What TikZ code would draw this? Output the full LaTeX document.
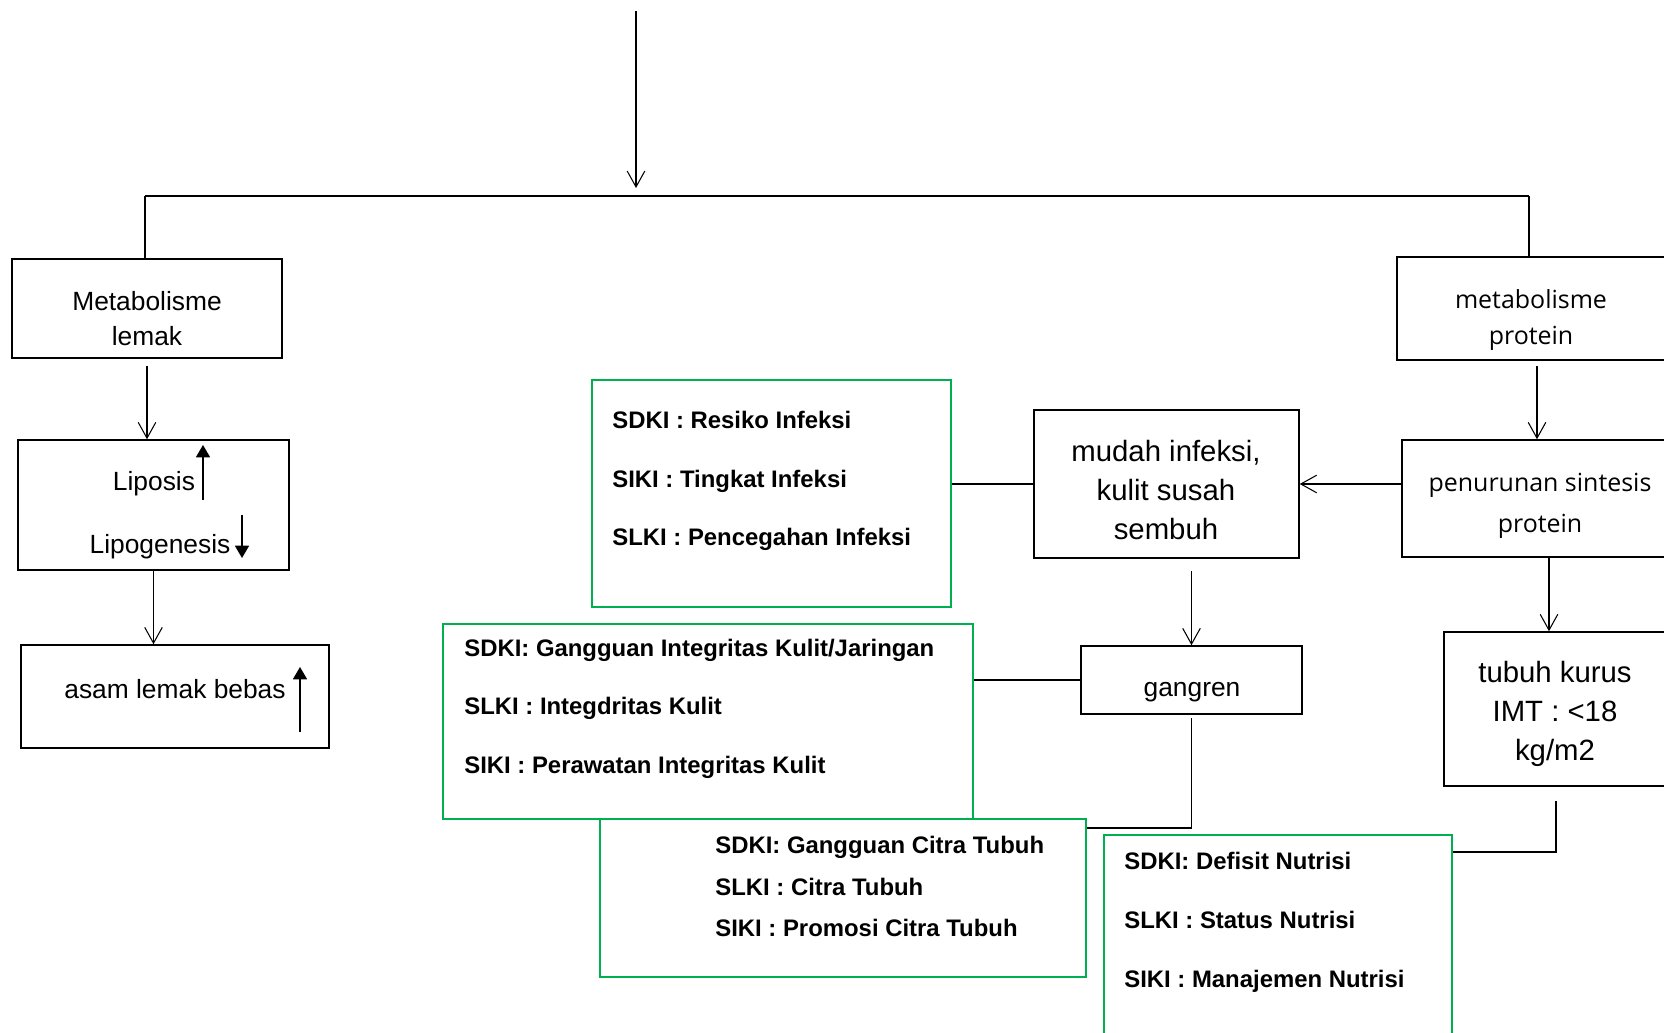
\documentclass[tikz,border=0pt]{standalone}
\usepackage{fontspec}
\setmainfont{Liberation Sans}
\newfontfamily\opensans{Open Sans}
\usetikzlibrary{arrows.meta}
\definecolor{sdkigreen}{RGB}{0,176,80}

\begin{document}
\begin{tikzpicture}[
  x=0.02cm, y=-0.02cm,
  box/.style={draw, line width=0.9pt, inner sep=0pt},
  gbox/.style={draw=sdkigreen, line width=1.1pt, inner sep=0pt},
  txt/.style={align=center, inner sep=0pt, font=\fontsize{15pt}{20pt}\selectfont},
  bigtxt/.style={align=center, inner sep=0pt, font=\fontsize{16.7pt}{22.4pt}\selectfont},
  ostxt/.style={align=center, inner sep=0pt, font=\opensans\fontsize{14.2pt}{20pt}\selectfont},
  lbl/.style={anchor=base west, inner sep=0pt, font=\fontsize{13.6pt}{16pt}\selectfont\bfseries},
  arr/.style={-{Straight Barb[length=9pt,width=10pt]}, line width=0.6pt},
  link/.style={line width=0.6pt},
  updown/.style={-{Triangle[length=7pt,width=8pt]}, line width=0.8pt}
]
\path[use as bounding box] (0,0) rectangle (1664,1032);
\clip (0,0) rectangle (1664,1032);

%% top branch
\coordinate (start) at (636,11);
\coordinate (busTop) at (636,188);
\coordinate (busL) at (145,196);
\coordinate (busR) at (1529,196);
\draw[arr] (start) -- (busTop);
\draw[link] (busR) -- (busL);

%% left column: lemak
\node[box, minimum width=5.4cm, minimum height=1.98cm] (lemak) at (147,308.5) {};
\node[txt] (lemakT) at (147,319) {Metabolisme\\lemak};
\node[box, minimum width=5.42cm, minimum height=2.6cm] (liposis) at (153.5,505) {};
\node[txt, anchor=base] (liposisT) at (154,490) {Liposis};
\node[txt, anchor=base] (lipogenT) at (160,553) {Lipogenesis};
\draw[updown] (203,500) -- (203,445);
\draw[updown] (242,515) -- (242,558);
\node[box, minimum width=6.16cm, minimum height=2.06cm] (asam) at (175,696.5) {};
\node[txt, anchor=base] (asamT) at (175,698) {asam lemak bebas};
\draw[updown] (300,732) -- (300,667);

\draw[link] (busL) -- (busL |- lemak.north);
\draw[arr, shorten <=4pt] (lemak.south) -- (lemak.south |- liposis.north);
\draw[arr] (liposis.south) -- (liposis.south |- asam.north);

%% right column: protein
\node[box, minimum width=5.6cm, minimum height=2.06cm] (protein) at (1537,308.5) {};
\node[ostxt] (proteinT) at (1531,320) {metabolisme\\protein};
\node[box, minimum width=5.88cm, minimum height=2.34cm] (sintesis) at (1549,498.5) {};
\node[ostxt, font=\opensans\fontsize{14.2pt}{23.3pt}\selectfont] (sintesisT) at (1540,506) {penurunan sintesis\\protein};
\node[box, minimum width=4.48cm, minimum height=3.08cm] (kurus) at (1556,709) {};
\node[bigtxt] (kurusT) at (1555,714) {tubuh kurus\\IMT : <18\\kg/m2};

\draw[link] (busR) -- (busR |- protein.north);
\draw[arr, shorten <=3pt] (protein.south) -- (protein.south |- sintesis.north);
\draw[arr] (sintesis.south) -- (sintesis.south |- kurus.north);

%% middle: infeksi and gangren
\node[box, minimum width=5.3cm, minimum height=2.96cm] (mudah) at (1166.5,484) {};
\node[bigtxt] (mudahT) at (1166,490) {mudah infeksi,\\kulit susah\\sembuh};
\node[box, minimum width=4.42cm, minimum height=1.36cm] (gangren) at (1191.5,680) {};
\node[txt, anchor=base] (gangrenT) at (1192,696) {gangren};

\draw[arr] (sintesis.west |- mudah.east) -- (mudah.east);
\draw[arr, shorten <=7pt] (gangren.north |- mudah.south) -- (gangren.north);

%% diagnosis boxes
\node[gbox, minimum width=7.18cm, minimum height=4.54cm] (risiko) at (771.5,493.5) {};
\node[lbl] (risiko1) at (612,428) {SDKI : Resiko Infeksi};
\node[lbl] (risiko2) at (612,487) {SIKI : Tingkat Infeksi};
\node[lbl] (risiko3) at (612,545) {SLKI : Pencegahan Infeksi};

\node[gbox, minimum width=10.6cm, minimum height=3.9cm] (integritas) at (708,721.5) {};
\node[lbl] (integritas1) at (464,656) {SDKI: Gangguan Integritas Kulit/Jaringan};
\node[lbl] (integritas2) at (464,714) {SLKI : Integdritas Kulit};
\node[lbl] (integritas3) at (464,773) {SIKI : Perawatan Integritas Kulit};

\node[gbox, minimum width=9.72cm, minimum height=3.16cm] (citra) at (843,898) {};
\node[lbl] (citra1) at (715,853) {SDKI: Gangguan Citra Tubuh};
\node[lbl] (citra2) at (715,895) {SLKI : Citra Tubuh};
\node[lbl] (citra3) at (715,936) {SIKI : Promosi Citra Tubuh};

\node[gbox, minimum width=6.96cm, minimum height=4.5cm] (nutrisi) at (1278,947.5) {};
\node[lbl] (nutrisi1) at (1124,869) {SDKI: Defisit Nutrisi};
\node[lbl] (nutrisi2) at (1124,928) {SLKI : Status Nutrisi};
\node[lbl] (nutrisi3) at (1124,987) {SIKI : Manajemen Nutrisi};

%% links to diagnoses
\coordinate (citraIn) at (1087,828);
\coordinate (nutrisiIn) at (1453,852);
\draw[link] (mudah.west) -- (mudah.west -| risiko.east);
\draw[link] (gangren.west) -- (gangren.west -| integritas.east);
\draw[link, shorten <=2pt] (gangren.south) |- (citraIn);
\draw[link, shorten <=8pt] (kurus.south) |- (nutrisiIn);
\end{tikzpicture}
\end{document}
